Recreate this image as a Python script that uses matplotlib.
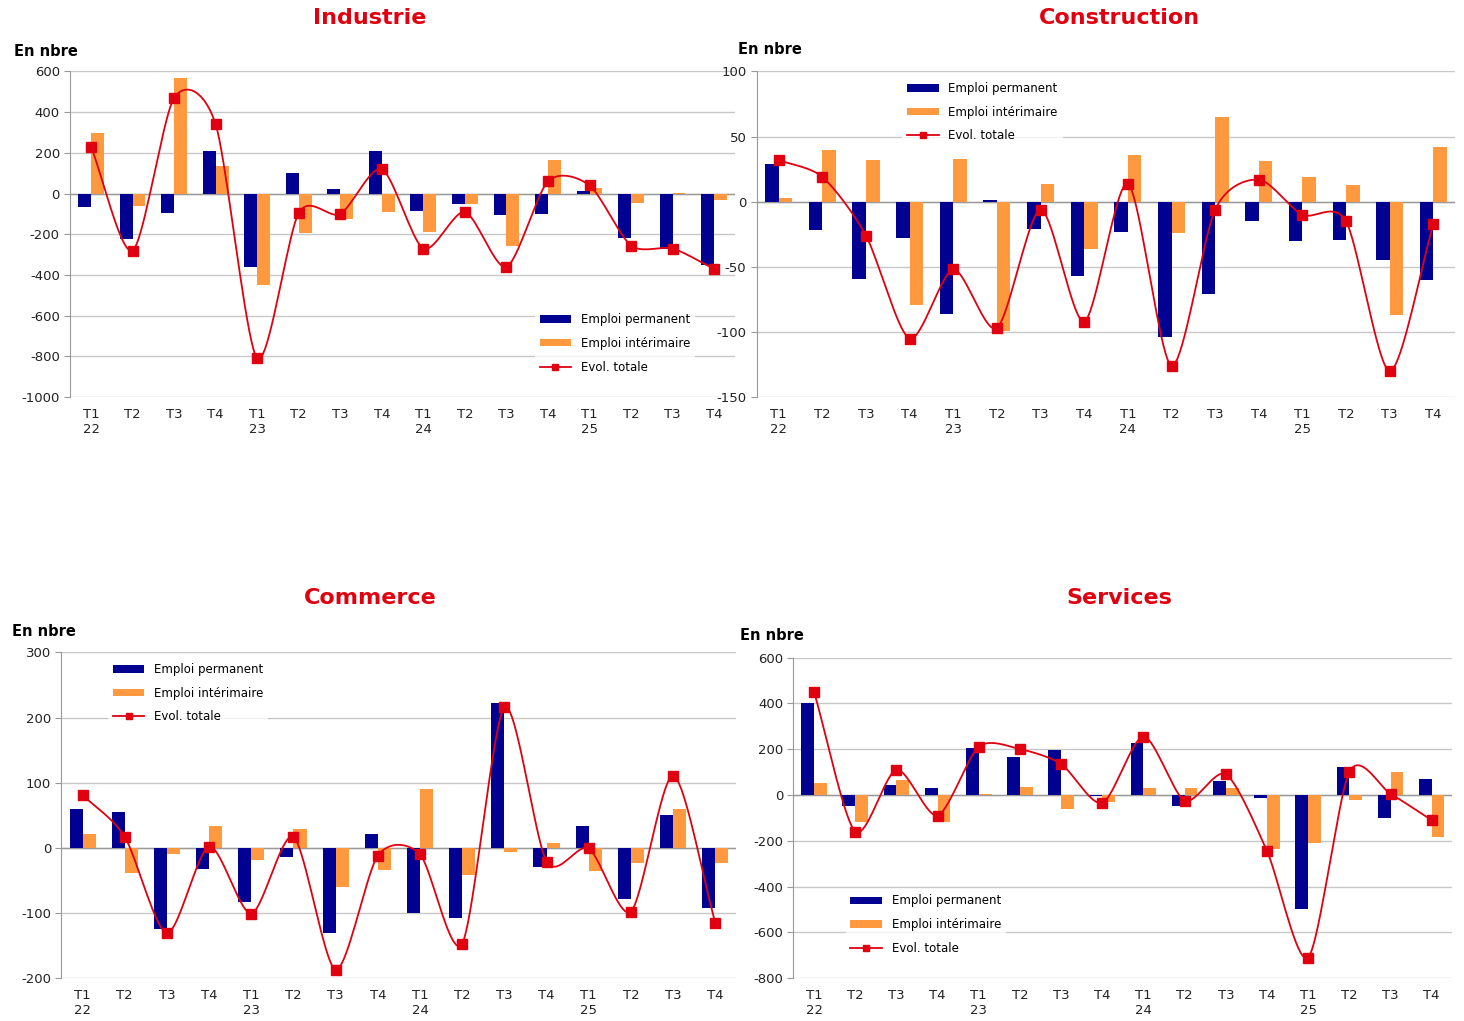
import numpy as np
import matplotlib
matplotlib.use('Agg')
import matplotlib.pyplot as plt

plt.rcParams['axes.unicode_minus'] = False

quarters = ['T1\n22', 'T2', 'T3', 'T4', 'T1\n23', 'T2', 'T3', 'T4',
            'T1\n24', 'T2', 'T3', 'T4', 'T1\n25', 'T2', 'T3', 'T4']

ind_perm = [-65, -225, -95, 210, -360, 100, 25, 210, -85, -50, -105, -100, 15, -220, -270, -350]
ind_int = [300, -60, 570, 135, -450, -195, -125, -90, -190, -50, -255, 165, 30, -45, 5, -30]
ind_tot = [230, -280, 470, 340, -810, -95, -100, 120, -270, -90, -360, 60, 40, -255, -270, -370]

con_perm = [29, -22, -59, -28, -86, 1, -21, -57, -23, -104, -71, -15, -30, -29, -45, -60]
con_int = [3, 40, 32, -79, 33, -99, 14, -36, 36, -24, 65, 31, 19, 13, -87, 42]
con_tot = [32, 19, -26, -105, -52, -97, -6, -92, 14, -126, -6, 17, -10, -15, -130, -17]

com_perm = [60, 55, -124, -33, -83, -14, -130, 21, -100, -107, 223, -29, 33, -79, 50, -93]
com_int = [21, -39, -9, 34, -19, 29, -60, -34, 90, -42, -7, 7, -36, -23, 60, -24]
com_tot = [81, 17, -131, 2, -101, 17, -187, -12, -10, -147, 216, -21, -1, -98, 111, -115]

ser_perm = [400, -50, 45, 30, 205, 165, 195, -5, 225, -50, 60, -15, -500, 120, -100, 70]
ser_int = [50, -120, 65, -120, 5, 35, -60, -30, 30, 30, 30, -235, -210, -20, 100, -185]
ser_tot = [450, -160, 110, -90, 210, 200, 135, -35, 255, -25, 90, -245, -710, 100, 5, -110]

NAVY = '#000091'
ORANGE = '#ff9940'
RED = '#e1000f'


def smooth(x, y, n=20, k=0.4):
    # cardinal spline, only to draw the curve between the points
    x = np.asarray(x, float); y = np.asarray(y, float)
    px = np.concatenate([[2*x[0]-x[1]], x, [2*x[-1]-x[-2]]])
    py = np.concatenate([[2*y[0]-y[1]], y, [2*y[-1]-y[-2]]])
    t = np.linspace(0, 1, n)
    h00 = 2*t**3 - 3*t**2 + 1; h10 = t**3 - 2*t**2 + t
    h01 = -2*t**3 + 3*t**2; h11 = t**3 - t**2
    xs, ys = [], []
    for i in range(1, len(px)-2):
        for p, out in ((px, xs), (py, ys)):
            m1 = k*(p[i+1]-p[i-1]); m2 = k*(p[i+2]-p[i])
            out.extend(h00*p[i] + h10*m1 + h01*p[i+1] + h11*m2)
    return xs, ys


def panel(rect, title, tpos, npos, perm, inter, tot, ylim, step, legpos):
    ax = fig.add_axes(rect)
    x = np.arange(len(quarters))
    w = 0.31
    b1 = ax.bar(x - w/2, perm, w, color=NAVY, label='Emploi permanent', zorder=2)
    b2 = ax.bar(x + w/2, inter, w, color=ORANGE, label='Emploi intérimaire', zorder=2)
    sx, sy = smooth(x, tot)
    ax.plot(sx, sy, color=RED, lw=1.3, zorder=3)
    ax.plot(x, tot, 's', color=RED, ms=7, zorder=4)
    l3, = ax.plot([], [], '-s', color=RED, ms=5, lw=1.3, label='Evol. totale')
    ax.set_xlim(-0.5, len(quarters) - 0.5)
    ax.set_ylim(*ylim)
    ax.set_yticks(np.arange(ylim[0], ylim[1] + 1, step))
    ax.yaxis.grid(True, color='#c8c8c8', lw=1)
    ax.set_axisbelow(True)
    for s in ('top', 'right', 'bottom'):
        ax.spines[s].set_visible(False)
    ax.spines['left'].set_color('#999999')
    ax.axhline(0, color='#999999', lw=1, zorder=1)
    ax.set_xticks(x)
    ax.set_xticklabels(quarters, fontsize=9.5, color='#222222')
    ax.tick_params(axis='x', length=0, pad=8)
    ax.tick_params(axis='y', labelsize=9.5, length=4, color='#999999', labelcolor='#222222')
    fig.text(tpos[0], tpos[1], title, color=RED, fontsize=16, fontweight='bold',
             ha='center', va='center')
    fig.text(npos[0], npos[1], 'En nbre', fontsize=10.5, fontweight='bold', va='center')
    leg = ax.legend(handles=[b1, b2, l3], loc=legpos[0], bbox_to_anchor=legpos[1],
                    frameon=True, fontsize=8.5, handlelength=2.7, handleheight=0.6,
                    labelspacing=0.9, edgecolor='none')
    leg.get_frame().set_facecolor('white')
    return ax


fig = plt.figure(figsize=(14.64, 10.21), dpi=100)
H = 1021.0
panel([0.048, 0.611, 0.454, 0.319], 'Industrie', (370/1464, 1-18/H), (14/1464, 1-52/H),
      ind_perm, ind_int, ind_tot, (-1000, 600), 200, ('lower left', (0.69, 0.04)))
panel([0.517, 0.611, 0.477, 0.319], 'Construction', (1119/1464, 1-18/H), (738/1464, 1-50/H),
      con_perm, con_int, con_tot, (-150, 100), 50, ('upper left', (0.2, 1.0)))
panel([0.042, 0.042, 0.461, 0.319], 'Commerce', (370/1464, 1-598/H), (12/1464, 1-631/H),
      com_perm, com_int, com_tot, (-200, 300), 100, ('upper left', (0.06, 1.0)))
panel([0.542, 0.042, 0.450, 0.314], 'Services', (1119/1464, 1-598/H), (740/1464, 1-635/H),
      ser_perm, ser_int, ser_tot, (-800, 600), 200, ('lower left', (0.07, 0.04)))
fig.savefig('out.png', dpi=100)
